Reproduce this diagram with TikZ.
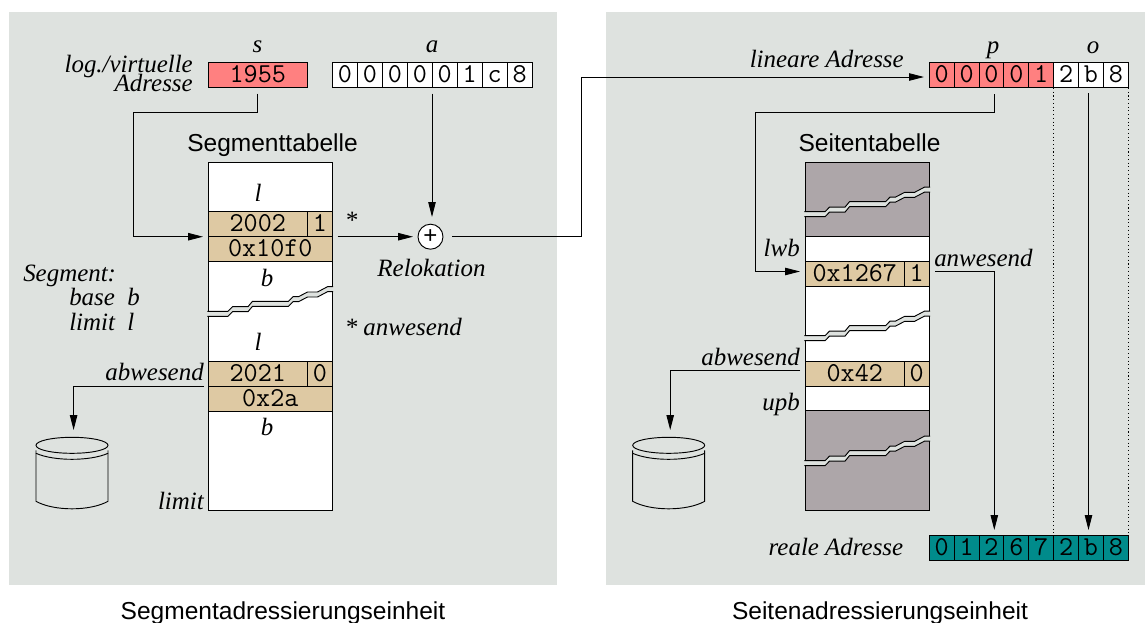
\documentclass[tikz,border=0pt]{standalone}
\usepackage{fontspec}
\setmainfont{Liberation Serif}
\setsansfont{Liberation Sans}
\usetikzlibrary{arrows.meta}
\definecolor{panelc}{HTML}{DEE2DF}
\definecolor{redc}{HTML}{FF8080}
\definecolor{tanc}{HTML}{DEC9A3}
\definecolor{grayc}{HTML}{ADA6A9}
\definecolor{tealc}{HTML}{008B8B}
\tikzset{
  panel/.style={fill=panelc,draw=none},
  box/.style={draw=black,line width=0.7pt,inner sep=0pt,outer sep=0pt,anchor=north west,minimum width=18.68pt,minimum height=18.9pt,font=\fontsize{20.5}{20.5}\selectfont\ttfamily,text height=11.5pt,text depth=0pt},
  cellw/.style={box,fill=white},
  cellr/.style={box,fill=redc},
  cellt/.style={box,fill=tealc},
  rowt/.style={box,fill=tanc},
  tbl/.style={draw=black,line width=0.7pt,inner sep=0pt,outer sep=0pt,anchor=north west,minimum width=93.4pt},
  lab/.style={font=\fontsize{18.7}{18.7}\selectfont\itshape,inner sep=0pt,anchor=base},
  labr/.style={lab,anchor=base east},
  labl/.style={lab,anchor=base west},
  title/.style={font=\fontsize{18.4}{18.4}\selectfont\sffamily,inner sep=0pt,anchor=base},
  conn/.style={draw=black,line width=0.7pt},
  arr/.style={conn,-{Triangle[length=11.25pt,width=5.6pt]}},
  dots/.style={draw=black,line width=0.8pt,dotted},
}
\newcommand{\brkband}[2]{%
  \begin{scope}[shift={(#1,#2)}]
    \fill[panelc] (-0.6,0) -- (20,0) -- (24.5,-4.6) -- (40,-4.6) -- (44.5,-10) -- (80.5,-10) -- (85,-14.6) -- (90.5,-14.6) -- (99.5,-19.3) -- (109.5,-19.3) -- (119.5,-24.6) -- (125,-24.6)
      -- (125,-19.6) -- (119.5,-19.6) -- (109.5,-14.3) -- (99.5,-14.3) -- (90.5,-9.6) -- (85,-9.6) -- (80.5,-5) -- (44.5,-5) -- (40,0.4) -- (24.5,0.4) -- (20,5) -- (-0.6,5) -- cycle;
    \draw[black,line width=0.7pt] (-0.6,0) -- (20,0) -- (24.5,-4.6) -- (40,-4.6) -- (44.5,-10) -- (80.5,-10) -- (85,-14.6) -- (90.5,-14.6) -- (99.5,-19.3) -- (109.5,-19.3) -- (119.5,-24.6) -- (125,-24.6);
    \draw[black,line width=0.7pt] (-0.6,5) -- (20,5) -- (24.5,0.4) -- (40,0.4) -- (44.5,-5) -- (80.5,-5) -- (85,-9.6) -- (90.5,-9.6) -- (99.5,-14.3) -- (109.5,-14.3) -- (119.5,-19.6) -- (125,-19.6);
  \end{scope}}
\newcommand{\disk}[2]{%
  \begin{scope}[shift={(#1,#2)}]
    \draw[black,line width=0.7pt] (0,0) ellipse [x radius=36,y radius=8];
    \draw[black,line width=0.7pt] (-36,5) -- (-36,8) .. controls (-18,16) and (18,16) .. (36,8) -- (36,5);
    \draw[black,line width=0.7pt] (-36,8) -- (-36,56) .. controls (-18,66) and (18,66) .. (36,56) -- (36,8);
  \end{scope}}
\begin{document}
\begin{tikzpicture}[x=0.75pt,y=-0.75pt]
\useasboundingbox (0,0) rectangle (1145,622);
\fill[white] (0,0) rectangle (1145,622);
\path[panel] (9,12) rectangle (557,585);
\path[panel] (606,12) rectangle (1145,585);

% ---- left: address
\node[lab] (ls) at (257.5,52.7) {s};
\node[lab] (la) at (432,52.7) {a};
\node[labr] (llv) at (193,72.7) {log./virtuelle};
\node[labr] (lad) at (193,91.7) {Adresse};
\node[box,fill=redc,minimum width=74.7pt] (s) at (208,62.5) {1955};
\foreach \i/\t in {1/0,2/0,3/0,4/0,5/0,6/1,7/c,8/8}
  \node[cellw] (a\i) at ({332.5+(\i-1)*24.95},62.5) {\t};

% ---- left: segment table
\node[title] (tseg) at (272.5,151.7) {Segmenttabelle};
\node[tbl,fill=white,minimum height=261pt] (segt) at (208,162) {};
\node[rowt,minimum width=74.7pt] (r2002) at (208,211.7) {2002};
\node[rowt] (r2002f) at (307.5,211.7) {1};
\node[rowt,minimum width=93.4pt] (rbase) at (208,236.7) {0x10f0};
\node[rowt,minimum width=74.7pt] (r2021) at (208,361) {2021};
\node[rowt] (r2021f) at (307.5,361) {0};
\node[rowt,minimum width=93.4pt] (rbase2) at (208,386) {0x2a};
\brkband{208}{311.3}
\node[lab] (l1) at (258,201.7) {l};
\node[lab] (b1) at (267,286.7) {b};
\node[lab] (l2) at (258,350.7) {l};
\node[lab] (b2) at (267,435.7) {b};
\node[labl] (star) at (344.5,228.5) {*};
\node[labl] (stara) at (344.5,335.7) {* anwesend};
\node[lab] (relo) at (431.5,276.7) {Relokation};
\node[labl] (sg) at (23,281.7) {Segment:};
\node[labl] (sb) at (69,305.7) {base\ \ b};
\node[labl] (sl) at (69,330.7) {limit\ \ l};
\node[labr] (abl) at (204,380.7) {abwesend};
\node[labr] (lim) at (204,509.5) {limit};
\node[circle,draw=black,line width=0.7pt,fill=white,minimum size=18.75pt,inner sep=0pt,font=\fontsize{18}{18}\selectfont\sffamily] (plus) at (430.5,236.7) {+};
\disk{72}{445.3}

% ---- left: connectors
\coordinate (c1) at (133,112);
\coordinate (c1b) at (s.south |- c1);
\coordinate (c1d) at (133,236.7);
\coordinate (tipl) at (203,236.7);
\draw[arr] ([yshift=-4.5pt]s.south) -- (c1b) -- (c1) -- (c1d) -- (tipl);
\coordinate (st) at (337.5,236.7);
\coordinate (pl) at (413,236.7);
\draw[arr] (st) -- (pl);
\coordinate (aout) at (432,93.5);
\coordinate (ain) at (432,217);
\draw[arr] (aout) -- (ain);
\coordinate (ab1) at (204,386);
\coordinate (ab2) at (73.6,386);
\coordinate (ab3) at (73.6,430);
\draw[arr] (ab1) -- (ab2) -- (ab3);

% ---- right: address
\node[lab] (lp) at (993,53.3) {p};
\node[lab] (lo) at (1093,53.3) {o};
\node[labr] (llin) at (904,67.7) {lineare Adresse};
\foreach \i/\t in {1/0,2/0,3/0,4/0,5/1}
  \node[cellr] (p\i) at ({929.3+(\i-1)*24.87},62.3) {\t};
\foreach \i/\t in {6/2,7/b,8/8}
  \node[cellw] (p\i) at ({929.3+(\i-1)*24.87},62.3) {\t};
\coordinate (d1t) at (1053.7,88);
\coordinate (d1b) at (1053.7,535);
\coordinate (d2t) at (1128.3,88);
\coordinate (d2b) at (1128.3,535);
\draw[dots] (d1t) -- (d1b);
\draw[dots] (d2t) -- (d2b);
\foreach \i/\t in {1/0,2/1,3/2,4/6,5/7,6/2,7/b,8/8}
  \node[cellt] (q\i) at ({929.3+(\i-1)*24.87},535) {\t};
\node[labr] (lre) at (903.5,555) {reale Adresse};

% ---- right: page table
\node[title] (tsei) at (869.5,151.7) {Seitentabelle};
\node[tbl,fill=white,minimum height=261pt] (pt) at (805,162) {};
\node[tbl,fill=grayc,minimum height=56.2pt] (g1) at (805,162) {};
\node[rowt,minimum width=74.7pt] (r1267) at (805,261.3) {0x1267};
\node[rowt] (r1267f) at (904.3,261.3) {1};
\node[rowt,minimum width=74.7pt] (r42) at (805,361) {0x42};
\node[rowt] (r42f) at (904.3,361) {0};
\node[tbl,fill=grayc,minimum height=74.8pt] (g2) at (805,410.3) {};
\brkband{805}{211.7}
\brkband{805}{335.7}
\brkband{805}{460.7}
\node[labr] (lwb) at (800,256.7) {lwb};
\node[labl] (anw) at (934,266.7) {anwesend};
\node[labr] (abr) at (800,365.7) {abwesend};
\node[labr] (upb) at (800,410.7) {upb};
\disk{668.7}{445.3}

% ---- right: connectors
\coordinate (e1) at (581,236.7);
\coordinate (e2) at (581,77);
\coordinate (e3) at (924,77);
\coordinate (pout) at (452,236.7);
\draw[arr] (pout) -- (e1) -- (e2) -- (e3);
\coordinate (f0) at (994.3,94);
\coordinate (f1) at (994.3,112);
\coordinate (f2) at (755,112);
\coordinate (f3) at (755,271.5);
\coordinate (f4) at (800,271.5);
\draw[arr] (f0) -- (f1) -- (f2) -- (f3) -- (f4);
\coordinate (h0) at (935,271.5);
\coordinate (h1) at (994.3,271.5);
\coordinate (h2) at (994.3,530);
\draw[arr] (h0) -- (h1) -- (h2);
\coordinate (o0) at (1088.5,93);
\coordinate (o1) at (1088.5,530);
\draw[arr] (o0) -- (o1);
\coordinate (i0) at (800,370.7);
\coordinate (i1) at (670.2,370.7);
\coordinate (i2) at (670.2,430);
\draw[arr] (i0) -- (i1) -- (i2);

% ---- captions
\node[title] (c1t) at (283,619) {Segmentadressierungseinheit};
\node[title] (c2t) at (880,619) {Seitenadressierungseinheit};
\end{tikzpicture}
\end{document}
